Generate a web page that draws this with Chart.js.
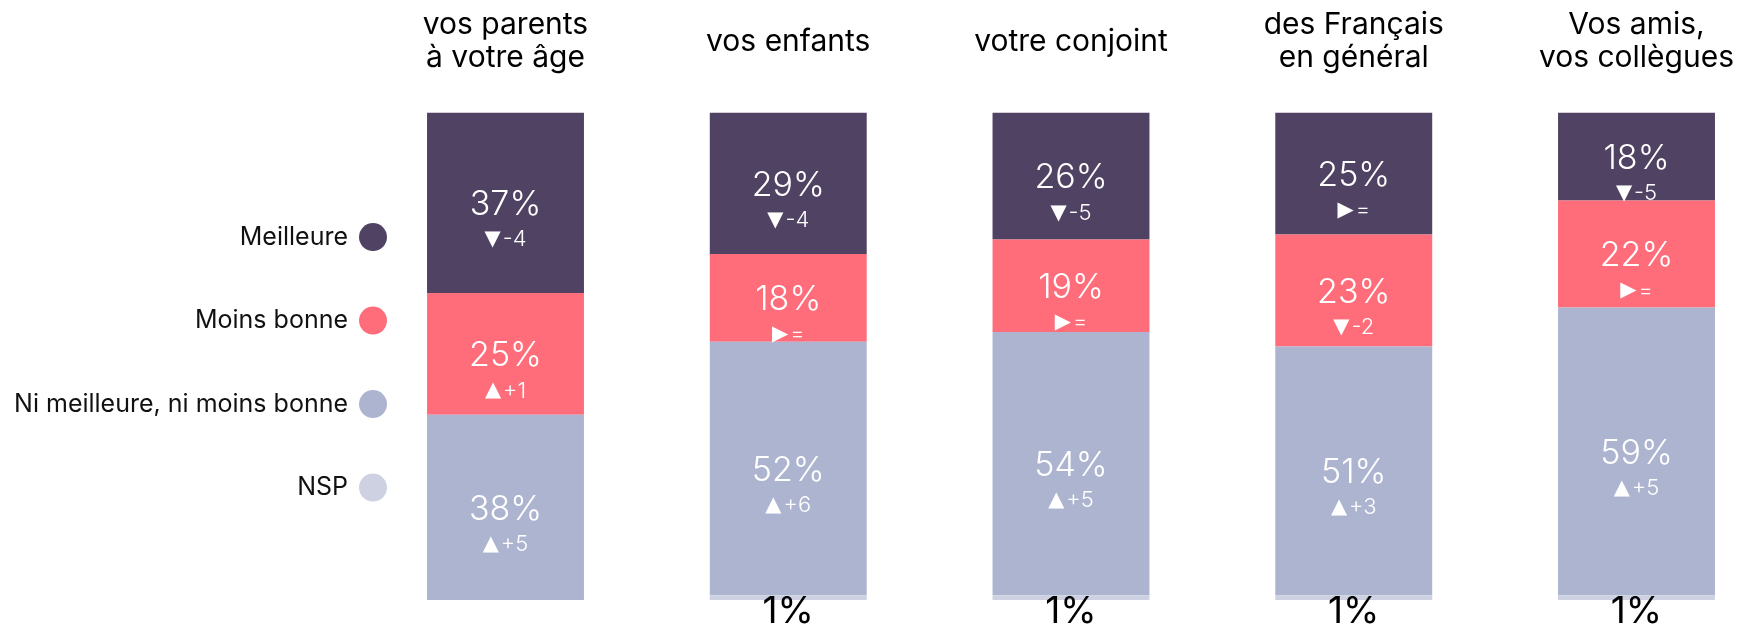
<!DOCTYPE html>
<html><head><meta charset="utf-8">
<script src="https://cdn.jsdelivr.net/npm/chart.js@4.4.1/dist/chart.umd.min.js"></script>
<style>html,body{margin:0;padding:0;background:#fff;overflow:hidden}</style>
</head><body>
<canvas id="c" width="1739" height="626"></canvas>
<script>
const categories = [["vos parents", "à votre âge"], "vos enfants", "votre conjoint", ["des Français", "en général"], ["Vos amis,", "vos collègues"]];
const seriesNames = ["Meilleure", "Moins bonne", "Ni meilleure, ni moins bonne", "NSP"];
const meilleure = [37, 29, 26, 25, 18];
const moinsBonne = [25, 18, 19, 23, 22];
const niMeilleureNiMoins = [38, 52, 54, 51, 59];
const nsp = [0, 1, 1, 1, 1];
const evolMeilleure = ["-4", "-4", "-5", "=", "-5"];
const evolMoinsBonne = ["+1", "=", "=", "-2", "="];
const evolNiNi = ["+5", "+6", "+5", "+3", "+5"];
const colors = ["#504262", "#ff6d7b", "#adb4d0", "#cdd1e2"];

const FONT = "Inter, 'Open Sans', sans-serif";

const datasets = [
  {label: seriesNames[3], data: nsp, backgroundColor: colors[3], evol: null, outside: true},
  {label: seriesNames[2], data: niMeilleureNiMoins, backgroundColor: colors[2], evol: evolNiNi},
  {label: seriesNames[1], data: moinsBonne, backgroundColor: colors[1], evol: evolMoinsBonne},
  {label: seriesNames[0], data: meilleure, backgroundColor: colors[0], evol: evolMeilleure}
].map(d => Object.assign(d, {clip: false, borderWidth: 0, categoryPercentage: 1, barPercentage: 0.555}));

const labelPlugin = {
  id: 'segLabels',
  afterDatasetsDraw(chart) {
    const ctx = chart.ctx;
    ctx.save();
    chart.data.datasets.forEach((ds, di) => {
      const meta = chart.getDatasetMeta(di);
      meta.data.forEach((bar, i) => {
        const v = ds.data[i];
        if (!v) return;
        const p = bar.getProps(['x', 'y', 'base'], true);
        const cy = (p.y + p.base) / 2;
        if (ds.outside) {
          ctx.fillStyle = '#000';
          ctx.font = "37px " + FONT;
          ctx.textAlign = 'center';
          ctx.textBaseline = 'alphabetic';
          ctx.fillText(v + '%', p.x, p.base + 23);
          return;
        }
        ctx.fillStyle = '#fff';
        ctx.font = "300 34px " + FONT;
        ctx.textAlign = 'center';
        ctx.textBaseline = 'middle';
        ctx.fillText(v + '%', p.x, cy + 2);
        const ev = ds.evol[i];
        const sym = ev === '=' ? '▶' : (ev.startsWith('-') ? '▼' : '▲');
        const symFont = "21px 'DejaVu Sans'";
        const txtFont = "300 22px " + FONT;
        ctx.font = symFont; const ws = ctx.measureText(sym).width;
        ctx.font = txtFont; const wt = ctx.measureText(ev).width;
        const gap = 2;
        const x0 = p.x - (ws + gap + wt) / 2;
        ctx.textAlign = 'left';
        ctx.font = symFont; ctx.fillText(sym, x0, cy + 37);
        ctx.font = txtFont; ctx.fillText(ev, x0 + ws + gap, cy + 37);
      });
    });
    ctx.restore();
  }
};

const legendPlugin = {
  id: 'sideLegend',
  afterDraw(chart) {
    const ctx = chart.ctx;
    const ca = chart.chartArea;
    const cx = ca.left - 132.5;
    const midY = (ca.top + ca.bottom) / 2 + 6;
    const order = [3, 2, 1, 0];
    ctx.save();
    order.forEach((di, k) => {
      const ds = chart.data.datasets[di];
      const yy = midY + (k - 1.5) * 83.5;
      ctx.beginPath();
      ctx.arc(cx, yy, 14, 0, Math.PI * 2);
      ctx.fillStyle = ds.backgroundColor;
      ctx.fill();
      ctx.fillStyle = '#111';
      ctx.font = "25px " + FONT;
      ctx.textAlign = 'right';
      ctx.textBaseline = 'middle';
      ctx.fillText(ds.label, cx - 25, yy);
    });
    ctx.restore();
  }
};

new Chart(document.getElementById('c'), {
  type: 'bar',
  data: {labels: categories, datasets},
  plugins: [labelPlugin, legendPlugin],
  options: {
    responsive: false,
    animation: false,
    layout: {padding: {left: 505.5, right: 102.5, top: 0, bottom: 26}},
    plugins: {legend: {display: false}, tooltip: {enabled: false}},
    scales: {
      x: {
        type: 'category', position: 'top', stacked: true, offset: false,
        grid: {display: false, drawTicks: true, tickLength: 38}, border: {display: false},
        ticks: {
          autoSkip: false, maxRotation: 0, minRotation: 0, padding: 0, color: '#000',
          font: (c) => ({family: FONT, size: 30, lineHeight: Array.isArray(categories[c.index]) ? 1.1 : 2.2})
        },
        afterFit: (s) => { s.height = 112.7; }
      },
      y: {stacked: true, display: false, min: 0, max: 100}
    }
  }
});
</script>
</body></html>
